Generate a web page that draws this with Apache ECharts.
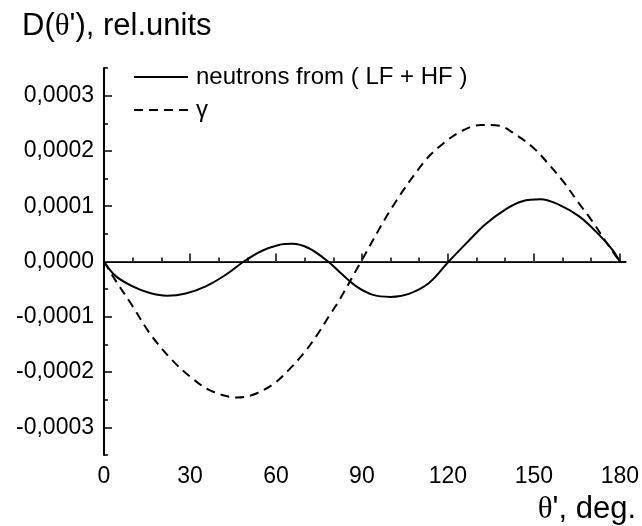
<!DOCTYPE html>
<html>
<head>
<meta charset="utf-8">
<script src="https://cdn.jsdelivr.net/npm/echarts@6/dist/echarts.min.js"></script>
<style>
  html, body { margin: 0; padding: 0; background: #fff; }
  #chart { width: 642px; height: 526px; }
</style>
</head>
<body>
<div id="chart"></div>
<script>
// Angular distribution D(θ') for neutrons (LF + HF) and γ-rays, θ' in degrees
const neutronTheta = [0, 4, 10, 16, 22, 28.5, 35.5, 42.5, 48.8, 55, 61, 65.7, 71.5, 78.2, 82.6, 87.8, 93.6, 100, 106.4, 113.4, 120.3, 127, 133, 140, 146, 152.3, 158.7, 165.7, 171.5, 177.3, 180];
const neutronD = [0, -0.000026, -0.000045, -0.000057, -0.000062, -0.000058, -0.000045, -0.000024, 0, 0.000019, 0.00003, 0.000032, 0.000024, 0, -0.000021, -0.000044, -0.00006, -0.000064, -0.0000585, -0.000039, 0, 0.000036, 0.000067, 0.000094, 0.000109, 0.0001125, 0.000103, 0.000082, 0.000055, 0.000022, 0];

const gammaTheta = [0, 3.5, 10, 16, 23, 30, 37, 46.5, 52, 59, 64.5, 70, 75, 78.5, 82, 89.5, 100.5, 112, 118.5, 125, 131.5, 138, 143.5, 150, 155, 160.5, 165.5, 170.5, 175, 180];
const gammaD = [0, -0.00003, -0.000081, -0.00013, -0.000174, -0.000208, -0.000233, -0.000246, -0.000241, -0.000222, -0.000196, -0.000164, -0.000128, -0.000099, -0.000071, -0.000002, 0.0000975, 0.000182, 0.000214, 0.0002365, 0.000247, 0.0002455, 0.00023, 0.000205, 0.000177, 0.000143, 0.000107, 0.000072, 0.000037, 0];

const seriesNames = ['neutrons from ( LF + HF )', 'γ'];

// Tick positions
const xMajorTicks = [0, 30, 60, 90, 120, 150, 180];
const xMinorTicks = [10, 20, 40, 50, 70, 80, 100, 110, 130, 140, 160, 170];
const yMajorTicks = [-0.0003, -0.0002, -0.0001, 0, 0.0001, 0.0002, 0.0003];
const yMinorTicks = [-0.00035, -0.00025, -0.00015, -0.00005, 0.00005, 0.00015, 0.00025, 0.00035];

const X_MIN = 0, X_MAX = 182;
const Y_MIN = -0.00035, Y_MAX = 0.00035;

const FONT = '"Liberation Sans", Arial, sans-serif';
const SERIF = '"Liberation Serif", "Times New Roman", serif';
const INK = '#000';

function pairs(xs, ys) { return xs.map((x, i) => [x, ys[i]]); }

const gridBox = { left: 104, right: 15, top: 68, bottom: 71 };

function overlayAxis(base, ticks) {
  return Object.assign({}, base, {
    axisLine: { show: false },
    axisLabel: { show: false },
    splitLine: { show: false },
    axisTick: { show: true, inside: true, length: 4, lineStyle: { color: INK, width: 1.5 }, customValues: ticks }
  });
}

const xBase = { type: 'value', gridIndex: 0, position: 'bottom', min: X_MIN, max: X_MAX };
const yBase = { type: 'value', gridIndex: 0, position: 'left', min: Y_MIN, max: Y_MAX };

const richText = {
  a: { fontFamily: FONT, fontSize: 31, fontWeight: 'normal', color: INK },
  t: { fontFamily: SERIF, fontSize: 31, fontWeight: 'normal', color: INK }
};

const option = {
  animation: false,
  backgroundColor: '#fff',
  grid: Object.assign({ containLabel: false }, gridBox),
  title: [
    {
      text: "{a|D(}{t|θ}{a|'), rel.units}",
      left: 17, top: 6,
      textStyle: { fontWeight: 'normal', rich: richText }
    },
    {
      text: "{t|θ}{a|', deg.}",
      right: 1, top: 489,
      textStyle: { fontWeight: 'normal', rich: richText }
    }
  ],
  legend: {
    data: seriesNames,
    orient: 'vertical',
    left: 133, top: 65,
    padding: 0,
    itemWidth: 54,
    itemHeight: 14,
    itemGap: 9,
    selectedMode: false,
    itemStyle: { color: 'transparent', borderColor: 'transparent', borderWidth: 0 },
    textStyle: { fontFamily: FONT, fontSize: 24, color: INK, lineHeight: 24, padding: [0, 0, 0, 3] }
  },
  xAxis: [
    Object.assign({}, xBase, {
      interval: 30,
      axisLine: { show: true, lineStyle: { color: INK, width: 2 } },
      splitLine: { show: false },
      axisTick: { show: true, inside: true, length: 8, lineStyle: { color: INK, width: 1.5 }, customValues: xMajorTicks },
      axisLabel: { show: true, margin: 10, fontFamily: FONT, fontSize: 23, color: INK, customValues: xMajorTicks }
    }),
    overlayAxis(xBase, xMinorTicks)
  ],
  yAxis: [
    Object.assign({}, yBase, {
      interval: 0.00005,
      axisLine: { show: true, lineStyle: { color: INK, width: 2 } },
      splitLine: { show: false },
      axisTick: { show: true, inside: true, length: 8, lineStyle: { color: INK, width: 1.5 }, customValues: yMajorTicks },
      axisLabel: {
        show: true, margin: 10, fontFamily: FONT, fontSize: 23, color: INK,
        customValues: yMajorTicks,
        formatter: v => (Math.abs(v) < 1e-12 ? 0 : v).toFixed(4).replace('.', ',')
      }
    }),
    overlayAxis(yBase, yMinorTicks)
  ],
  series: [
    {
      name: seriesNames[0],
      type: 'line',
      xAxisIndex: 0, yAxisIndex: 0,
      data: pairs(neutronTheta, neutronD),
      smooth: 0.35,
      symbol: 'none',
      lineStyle: { color: INK, width: 2, type: 'solid' },
      itemStyle: { color: INK },
      z: 3,
      markLine: {
        silent: true,
        symbol: 'none',
        label: { show: false },
        lineStyle: { color: '#333', width: 1, type: 'solid' },
        data: [[{ coord: [0, 0] }, { coord: [180, 0] }]],
        z: 1
      }
    },
    {
      name: seriesNames[1],
      type: 'line',
      xAxisIndex: 0, yAxisIndex: 0,
      data: pairs(gammaTheta, gammaD),
      smooth: 0.35,
      symbol: 'none',
      lineStyle: { color: INK, width: 2, type: [9, 6] },
      itemStyle: { color: INK },
      z: 3
    }
  ]
};

const chart = echarts.init(document.getElementById('chart'), null, { renderer: 'canvas' });
chart.setOption(option);
</script>
</body>
</html>
